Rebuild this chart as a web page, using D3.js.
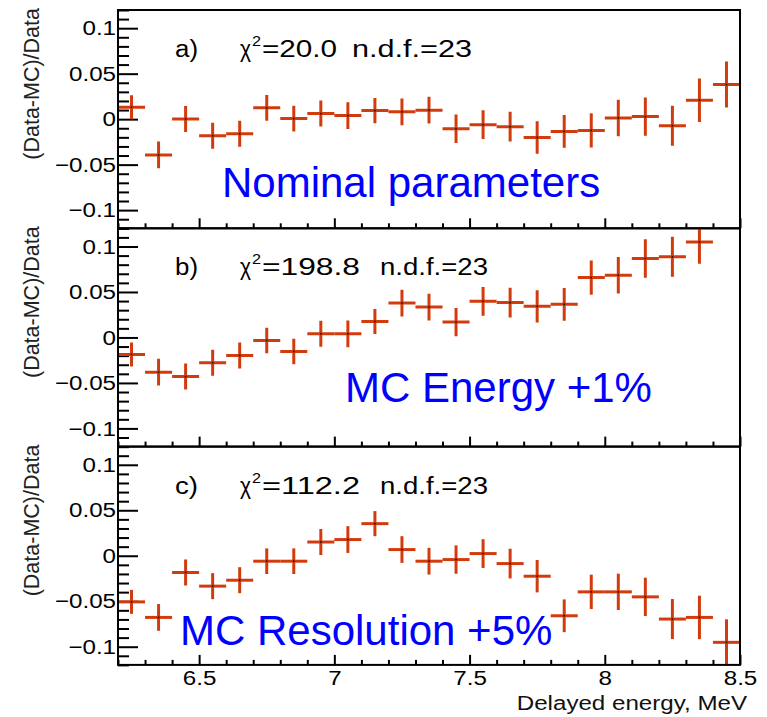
<!DOCTYPE html>
<html><head><meta charset="utf-8">
<script src="https://cdn.jsdelivr.net/npm/d3@7"></script>
<style>body{margin:0;background:#fff}</style>
</head><body><svg id="c" width="767" height="717"></svg>
<script>
// ---- data ----
const binCenters = [6.25,6.35,6.45,6.55,6.65,6.75,6.85,6.95,7.05,7.15,7.25,7.35,7.45,7.55,7.65,7.75,7.85,7.95,8.05,8.15,8.25,8.35,8.45];
const errors = [0.0132,0.0147,0.0143,0.0143,0.0143,0.0141,0.0141,0.0143,0.0147,0.0138,0.0147,0.0147,0.0156,0.0158,0.0163,0.0178,0.018,0.0189,0.02,0.0211,0.022,0.0239,0.0253];
const nominalValues = [0.0131,-0.0394,0.0002,-0.0183,-0.0161,0.0124,0.0006,0.0061,0.0039,0.0094,0.008,0.0098,-0.0106,-0.0061,-0.0083,-0.0202,-0.0135,-0.0124,0.0013,0.0028,-0.0072,0.0209,0.038];
const energyValues = [-0.0187,-0.0382,-0.043,-0.0279,-0.0198,-0.0033,-0.0154,0.004,0.004,0.0176,0.0378,0.0334,0.0169,0.0397,0.0383,0.0342,0.0364,0.0658,0.0684,0.0868,0.0886,0.105,0.13];
const resolutionValues = [-0.0507,-0.0678,-0.0184,-0.0334,-0.0269,-0.006,-0.006,0.0151,0.0178,0.0353,0.0068,-0.006,-0.0042,0.0024,-0.0086,-0.0225,-0.066,-0.0397,-0.0397,-0.0452,-0.0696,-0.0678,-0.0952];
const panelLabels = ["a)","b)","c)"];
const chi2Values = ["20.0","198.8","112.2"];
const ndfText = "n.d.f.=23";
const captions = ["Nominal parameters","MC Energy +1%","MC Resolution +5%"];
const yMajorTicks = [-0.1,-0.05,0,0.05,0.1];
const yTickLabels = ["\u22120.1","\u22120.05","0","0.05","0.1"];
const xMajorTicks = [6.5,7,7.5,8,8.5];
const xTickLabels = ["6.5","7","7.5","8","8.5"];
const yTitle = "(Data-MC)/Data";
const xTitle = "Delayed energy, MeV";

// ---- layout ----
const series = [nominalValues, energyValues, resolutionValues];
const L = 118, R = 740, top0 = 10, ph = 218.3;
const FONT = "'Liberation Sans', Arial, Helvetica, sans-serif";
const RED = "#d23c0c";
const SX = 1.15; // horizontal stretch of ROOT texts
const capPos = [[222, 187], [345, 173.5], [180, 198.5]];
const ndfX = [352, 380, 380];
const chiEnd = [337, 360, 360];

const svg = d3.select("#c");
const x = d3.scaleLinear().domain([6.2, 8.5]).range([L, R]);
const yMinor = d3.range(-12, 13).map(v => v / 100).filter(v => Math.abs(Math.round(v * 100) % 5) !== 0);
const xMinor = d3.range(62, 86).map(v => v / 10).filter(v => Math.abs(Math.round(v * 10) % 5) !== 0);

series.forEach((vals, i) => {
  const top = top0 + i * ph, bottom = top + ph;
  const y = d3.scaleLinear().domain([-0.12, 0.12]).range([bottom, top]);
  const g = svg.append("g");

  g.append("clipPath").attr("id", "clip" + i).append("rect")
    .attr("x", L).attr("y", top).attr("width", R - L).attr("height", ph);

  // y axis major
  const ya = g.append("g").attr("transform", `translate(${L},0)`)
    .call(d3.axisLeft(y).tickValues(yMajorTicks).tickSizeInner(-20).tickSizeOuter(0).tickPadding(2)
      .tickFormat((d, k) => yTickLabels[k]));
  ya.select(".domain").remove();
  ya.selectAll("line").attr("stroke", "#000").attr("stroke-width", 2);
  ya.selectAll("text").attr("font-family", FONT).attr("font-size", 21).attr("fill", "#000")
    .attr("x", -2 / SX).attr("transform", `scale(${SX},1)`);
  // y minor
  const ym = g.append("g").attr("transform", `translate(${L},0)`)
    .call(d3.axisLeft(y).tickValues(yMinor).tickSizeInner(-11).tickSizeOuter(0).tickFormat(""));
  ym.select(".domain").remove();
  ym.selectAll("line").attr("stroke", "#000").attr("stroke-width", 2);

  // x axis
  const xa = g.append("g").attr("transform", `translate(0,${bottom})`)
    .call(d3.axisBottom(x).tickValues(xMajorTicks).tickSizeInner(-10).tickSizeOuter(0).tickPadding(5)
      .tickFormat((d, k) => i === 2 ? xTickLabels[k] : ""));
  xa.select(".domain").remove();
  xa.selectAll("line").attr("stroke", "#000").attr("stroke-width", 2);
  xa.selectAll("text").attr("font-family", FONT).attr("font-size", 21).attr("fill", "#000")
    .attr("transform", `scale(${SX},1)`).attr("y", 5).attr("dy", "0.71em");
  const xm = g.append("g").attr("transform", `translate(0,${bottom})`)
    .call(d3.axisBottom(x).tickValues(xMinor).tickSizeInner(-5).tickSizeOuter(0).tickFormat(""));
  xm.select(".domain").remove();
  xm.selectAll("line").attr("stroke", "#000").attr("stroke-width", 2);

  // data crosses
  const pts = vals.map((v, k) => ({c: binCenters[k], v, e: errors[k]}))
    .filter(d => d.v >= -0.12 && d.v <= 0.12);
  const dg = g.append("g").attr("clip-path", `url(#clip${i})`);
  dg.selectAll("line.v").data(pts).join("line").attr("class", "v")
    .attr("x1", d => x(d.c)).attr("x2", d => x(d.c))
    .attr("y1", d => y(d.v - d.e)).attr("y2", d => y(d.v + d.e))
    .attr("stroke", RED).attr("stroke-width", 3);
  dg.selectAll("line.h").data(pts).join("line").attr("class", "h")
    .attr("x1", d => x(d.c - 0.05)).attr("x2", d => x(d.c + 0.05))
    .attr("y1", d => y(d.v)).attr("y2", d => y(d.v))
    .attr("stroke", RED).attr("stroke-width", 3);
  dg.selectAll("rect.m").data(pts).join("rect").attr("class", "m")
    .attr("x", d => x(d.c) - 0.75).attr("y", d => y(d.v) - 0.75)
    .attr("width", 1.5).attr("height", 1.5).attr("fill", "#000");

  // frame
  g.append("rect").attr("x", L).attr("y", top).attr("width", R - L).attr("height", ph)
    .attr("fill", "none").attr("stroke", "#000").attr("stroke-width", 2);

  // y title
  g.append("text").attr("transform", `translate(39,${top - 2}) rotate(-90)`)
    .attr("text-anchor", "end").attr("font-family", FONT).attr("font-size", 21.5)
    .attr("fill", "#222").text(yTitle);

  // panel texts
  const by = top + 47;
  g.append("text").attr("x", 175).attr("y", by).attr("font-family", FONT).attr("font-size", 23)
    .attr("textLength", 23).attr("lengthAdjust", "spacingAndGlyphs").text(panelLabels[i]);
  g.append("text").attr("x", 240).attr("y", by).attr("font-family", FONT).attr("font-size", 23)
    .attr("textLength", 11).attr("lengthAdjust", "spacingAndGlyphs").text("\u03c7");
  g.append("text").attr("x", 252).attr("y", by - 11).attr("font-family", FONT).attr("font-size", 15)
    .attr("textLength", 9).attr("lengthAdjust", "spacingAndGlyphs").text("2");
  g.append("text").attr("x", 262).attr("y", by).attr("font-family", FONT).attr("font-size", 23)
    .attr("textLength", chiEnd[i] - 262).attr("lengthAdjust", "spacingAndGlyphs").text("=" + chi2Values[i]);
  g.append("text").attr("x", ndfX[i]).attr("y", by).attr("font-family", FONT).attr("font-size", 23)
    .attr("textLength", (i === 0 ? 472 : 488) - ndfX[i]).attr("lengthAdjust", "spacingAndGlyphs").text(ndfText);

  // caption
  g.append("text").attr("x", capPos[i][0]).attr("y", top + capPos[i][1])
    .attr("font-family", FONT).attr("font-size", 42).attr("fill", "#0000ff").text(captions[i]);
});

// x title
svg.append("text").attr("transform", `translate(747,710) scale(${SX},1)`)
  .attr("text-anchor", "end").attr("font-family", FONT).attr("font-size", 21)
  .attr("fill", "#111").text(xTitle);
</script>
</body></html>
